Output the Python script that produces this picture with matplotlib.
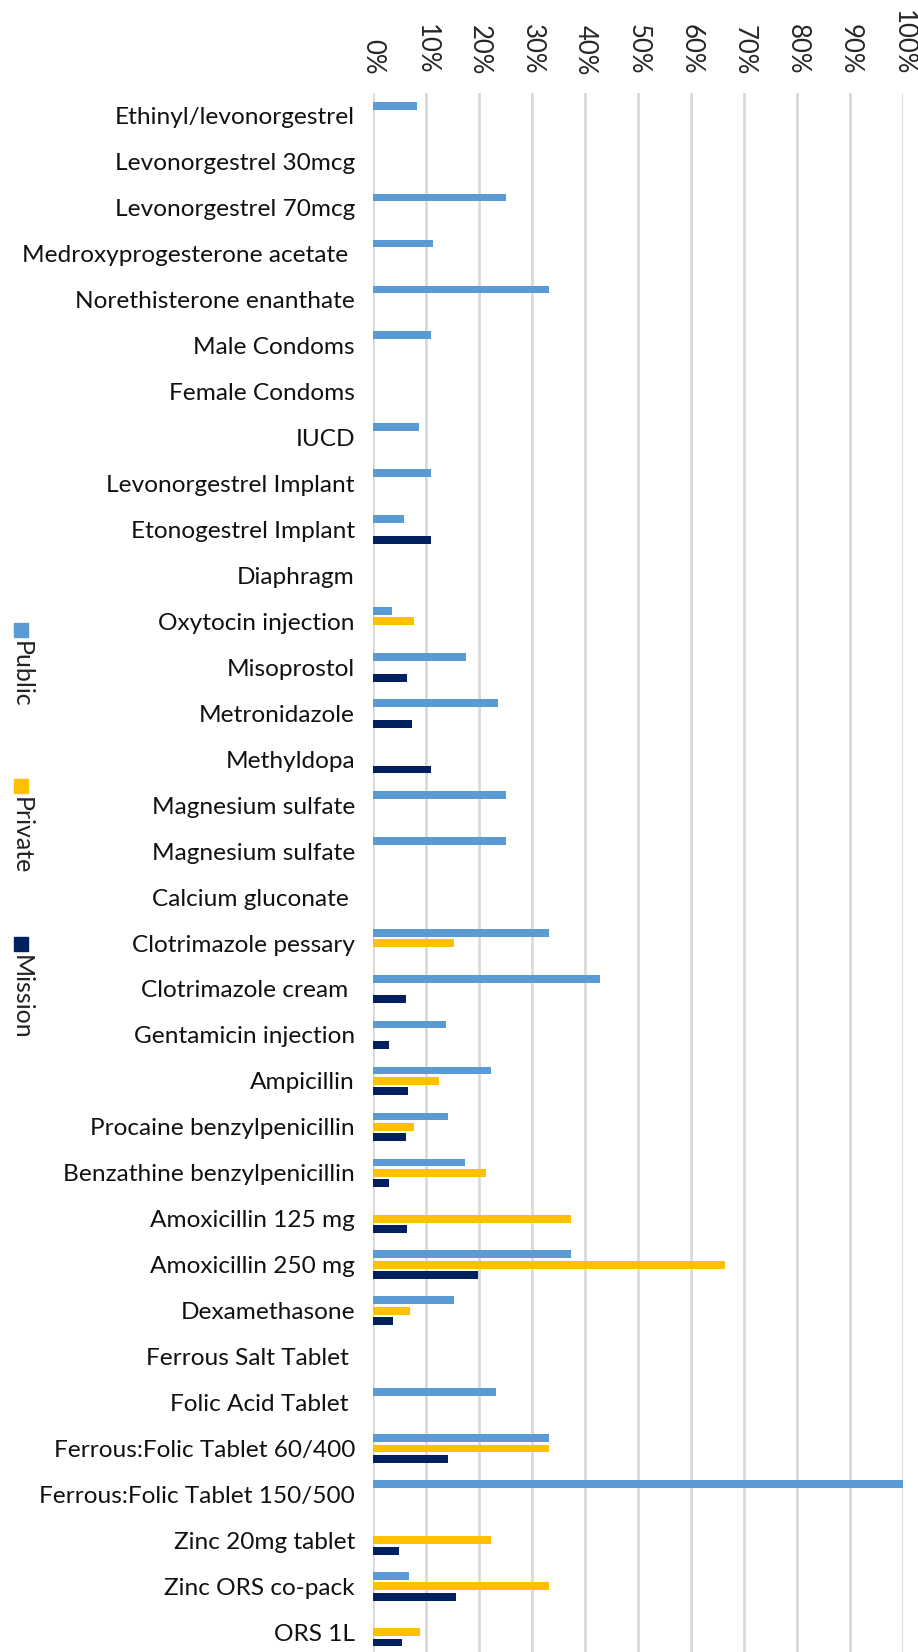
import numpy as np
import matplotlib.pyplot as plt
from matplotlib.patches import Rectangle

plt.rcParams['font.family'] = ['Lato', 'DejaVu Sans']

drugs = ['Ethinyl/levonorgestrel', 'Levonorgestrel 30mcg', 'Levonorgestrel 70mcg',
         'Medroxyprogesterone acetate ', 'Norethisterone enanthate', 'Male Condoms',
         'Female Condoms', 'IUCD', 'Levonorgestrel Implant', 'Etonogestrel Implant',
         'Diaphragm', 'Oxytocin injection', 'Misoprostol', 'Metronidazole', 'Methyldopa',
         'Magnesium sulfate', 'Magnesium sulfate', 'Calcium gluconate ',
         'Clotrimazole pessary', 'Clotrimazole cream ', 'Gentamicin injection',
         'Ampicillin', 'Procaine benzylpenicillin', 'Benzathine benzylpenicillin',
         'Amoxicillin 125 mg', 'Amoxicillin 250 mg', 'Dexamethasone',
         'Ferrous Salt Tablet ', 'Folic Acid Tablet ', 'Ferrous:Folic Tablet 60/400',
         'Ferrous:Folic Tablet 150/500', 'Zinc 20mg tablet', 'Zinc ORS co-pack', 'ORS 1L']

# percent of facilities
public = [8.3, 0, 25, 11.4, 33.3, 11.0, 0, 8.6, 11.0, 5.8,
          0, 3.5, 17.6, 23.6, 0, 25, 25, 0, 33.3, 42.8,
          13.8, 22.2, 14.2, 17.4, 0, 37.4, 15.3, 0, 23.2, 33.3,
          100, 0, 6.8, 0]
private = [0, 0, 0, 0, 0, 0, 0, 0, 0, 0,
           0, 7.7, 0, 0, 0, 0, 0, 0, 15.3, 0,
           0, 12.4, 7.7, 21.4, 37.4, 66.5, 7.0, 0, 0, 33.3,
           0, 22.2, 33.3, 8.9]
mission = [0, 0, 0, 0, 0, 0, 0, 0, 0, 11.0,
           0, 0, 6.4, 7.3, 11.0, 0, 0, 0, 0, 6.2,
           3.1, 6.6, 6.2, 3.0, 6.5, 19.9, 3.8, 0, 0, 14.1,
           0, 4.9, 15.7, 5.4]

series = ['Public', 'Private', 'Mission']
colors = ['#5B9BD5', '#FFC000', '#002060']

fig = plt.figure(figsize=(9.18, 16.52), dpi=100)
ax = fig.add_axes([373/918, 0, 530/918, (1652-93)/1652])

y = np.arange(len(drugs))
h = 0.17
off = 0.225
for k, (vals, c) in enumerate(zip([public, private, mission], colors)):
    ax.barh(y + (k-1)*off, vals, height=h, color=c, zorder=3)

ax.set_xlim(0, 100)
ax.set_ylim(33.43, -0.5)
ax.set_xticks(np.arange(0, 101, 10))
ax.set_xticklabels(['%d%%' % v for v in range(0, 101, 10)], rotation=-90, fontsize=18.5)
ax.xaxis.tick_top()
ax.set_yticks(y)
ax.set_yticklabels(drugs, fontsize=17.6)
ax.tick_params(axis='x', length=0, pad=13, colors='#262626')
ax.tick_params(axis='y', length=0, pad=13)
for lab in ax.get_yticklabels():
    lab.set_color('#111111')
ax.grid(axis='x', color='#D9D9D9', linewidth=2, zorder=0)
for s in ax.spines.values():
    s.set_visible(False)

# legend drawn vertically on the left
leg_y = [623, 779, 937]
for name, c, ly in zip(series, colors, leg_y):
    fig.add_artist(Rectangle((14/918, 1 - (ly+14)/1652), 14/918, 14/1652,
                             transform=fig.transFigure, color=c))
    fig.text(21/918, 1 - (ly+18)/1652, name, rotation=-90, fontsize=18,
             ha='center', va='top', color='#222222')

fig.savefig('out.png', dpi=100)
